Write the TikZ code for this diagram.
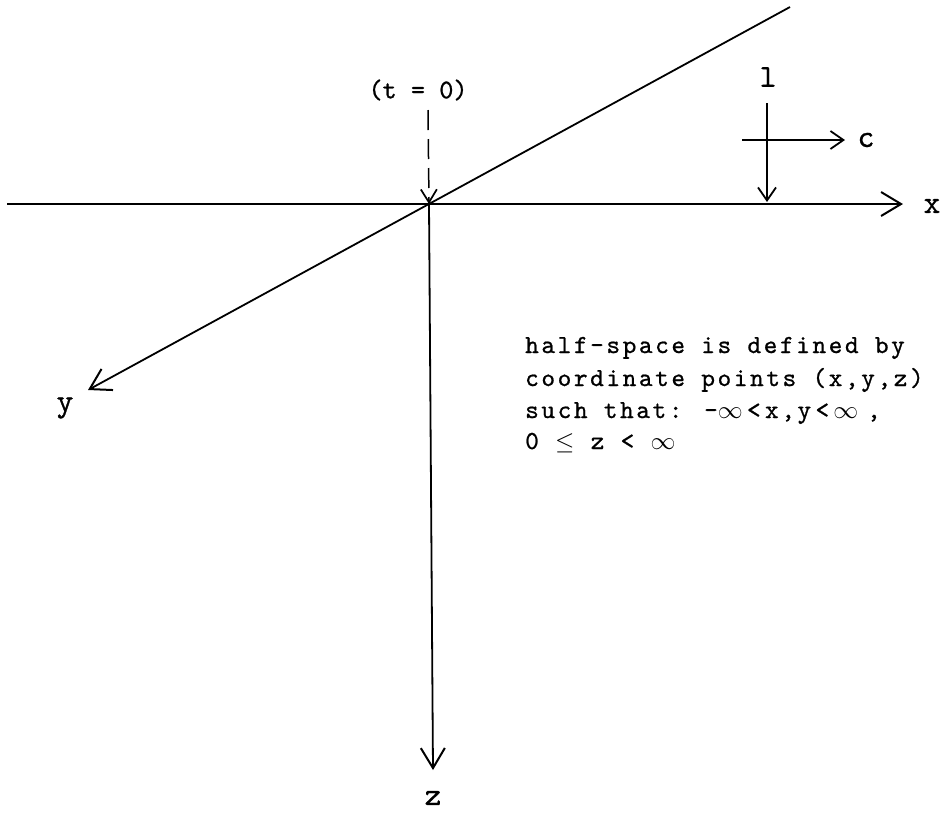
\documentclass[tikz,border=0pt]{standalone}
\usepackage{fontspec}
\usetikzlibrary{arrows.meta}
\newfontfamily\twtext[LetterSpace=10,FakeBold=0.8]{lmmono10-regular.otf}
\newfontfamily\twlabel[FakeBold=0.8]{lmmono10-regular.otf}
\begin{document}
\begin{tikzpicture}[x=1pt,y=-1pt,
  axis/.style={line width=1.8pt, -{Straight Barb[length=20pt,width=24pt,line width=2pt]}},
  smallarrow/.style={line width=1.7pt, -{Straight Barb[length=13pt,width=18pt,line width=1.8pt]}},
  dashline/.style={line width=1.5pt, dash pattern=on 20pt off 9pt, -{Straight Barb[length=13pt,width=16pt,line width=1.7pt]}},
  lbl/.style={font=\twlabel\fontsize{32}{34}\selectfont, inner sep=0pt},
  txt/.style={font=\twtext\fontsize{26}{32}\selectfont, inner sep=0pt, anchor=base west}]
\useasboundingbox (0,0) rectangle (948,815);
\fill[white] (0,0) rectangle (948,815);
% axes
\coordinate (O) at (429,204);
\coordinate (xs) at (7,204);
\coordinate (xe) at (903,204);
\coordinate (ys) at (790,7);
\coordinate (ye) at (88,390);
\coordinate (ze) at (433,770);
\draw[axis] (xs) -- (xe);
\draw[axis] (ys) -- (ye);
\draw[axis] (O) -- (ze);
% axis labels
\node[lbl] (xl) at (932,206) {x};
\node[lbl] (yl) at (65,408) {y};
\node[lbl] (zl) at (433,798) {z};
% t = 0 marker
\node[font=\twlabel\fontsize{27}{29}\selectfont, inner sep=0pt] (t0) at (418,90) {(t = 0)};
\coordinate (dtop) at (428,110);
\draw[dashline] (dtop) -- (O);
% l and c
\node[lbl] (ll) at (768,77) {l};
\node[lbl] (cl) at (866,140) {c};
\coordinate (lt) at (767,103);
\coordinate (lb) at (767,202);
\coordinate (cs) at (742,140);
\coordinate (ce) at (845,140);
\draw[smallarrow] (lt) -- (lb);
\draw[smallarrow] (cs) -- (ce);
% text block
\node[txt] (t1) at (525,353) {half-space is defined by};
\node[txt] (t2) at (525,386) {coordinate points (x,y,z)};
\node[txt] (t3) at (525,418) {such that: -$\infty$\,<\,x,y\,<\,$\infty$\,\,,};
\node[txt] (t4) at (525,449) {0 $\leq$ z < $\infty$};
\end{tikzpicture}
\end{document}
